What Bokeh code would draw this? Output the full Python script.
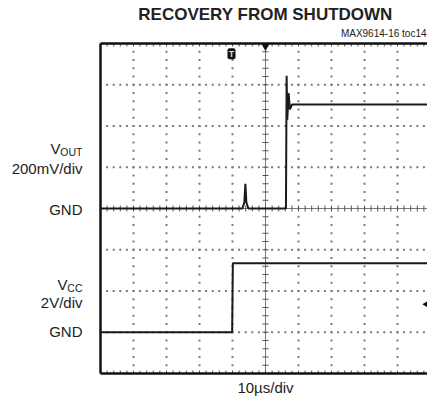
import numpy as np
from bokeh.plotting import figure
from bokeh.models import Label, Range1d
from bokeh.embed import file_html
from bokeh.resources import INLINE

# ---- data (scope divisions) ----
title_text = "RECOVERY FROM SHUTDOWN"
note_text = "MAX9614-16 toc14"
x_label = "10µs/div"
n_xdiv = 10
n_ydiv = 8
minor = 0.2

# VOUT trace (200mV/div, GND at division 4)
vout_x = [0.0, 4.30, 4.36, 4.39, 4.42, 4.48, 5.62, 5.64, 5.66, 5.70, 5.74, 5.80, 10.0]
vout_y = [4.0, 4.0, 4.15, 4.6, 4.15, 4.0, 4.0, 7.22, 6.15, 6.8, 6.4, 6.52, 6.52]

# VCC trace (2V/div, GND at division 1)
vcc_x = [0.0, 3.99, 4.01, 10.0]
vcc_y = [1.0, 1.0, 2.67, 2.67]

trig_x = 3.97      # trigger position marker
trig_level = 1.68  # trigger level marker

FONT = "Liberation Sans"
W, H = 427, 409
X0, Y0 = 100.0, 373.0      # scope origin in page pixels
sx, sy = 33.0, 41.25       # px per division

p = figure(width=W, height=H, output_backend="svg", toolbar_location=None,
           x_range=Range1d(-X0 / sx, (W - X0) / sx),
           y_range=Range1d((Y0 - H) / sy, Y0 / sy),
           x_axis_location=None, y_axis_location=None,
           min_border_left=0, min_border_right=0, min_border_top=0, min_border_bottom=0)
p.outline_line_color = None
p.grid.visible = False
p.background_fill_color = "white"
p.border_fill_color = "white"

grid_col = "#7a7a7a"
tick_col = "#555555"
# dotted grid
gx, gy = [], []
for i in range(1, n_xdiv):
    if i == n_xdiv // 2:
        continue
    for yy in np.arange(minor, n_ydiv - 1e-9, minor):
        gx.append(i); gy.append(yy)
for j in range(1, n_ydiv):
    if j == n_ydiv // 2:
        continue
    for xx in np.arange(minor, n_xdiv - 1e-9, minor):
        gx.append(xx); gy.append(j)
p.scatter(gx, gy, marker="square", size=2, fill_color=grid_col, line_color=None)

# center crosshair with ticks
cx, cy = n_xdiv / 2, n_ydiv / 2
p.segment([cx], [0], [cx], [n_ydiv], line_color=grid_col, line_width=1)
p.segment([0], [cy], [n_xdiv], [cy], line_color=grid_col, line_width=1)
ty = np.arange(minor, n_ydiv - 1e-9, minor)
p.segment(cx - 3 / sx, ty, cx + 3 / sx, ty, line_color=tick_col, line_width=1)
tx = np.arange(minor, n_xdiv - 1e-9, minor)
p.segment(tx, cy - 3 / sy, tx, cy + 3 / sy, line_color=tick_col, line_width=1)

# border ticks
p.segment(tx, n_ydiv, tx, n_ydiv - 3 / sy, line_color=tick_col, line_width=1)
p.segment(tx, 0, tx, 3 / sy, line_color=tick_col, line_width=1)

# frame border (top, bottom, left)
p.segment([0, 0, 0], [0, n_ydiv, 0], [n_xdiv, n_xdiv, 0], [0, n_ydiv, n_ydiv],
          line_color="#111111", line_width=2.5)

# traces
p.line(vcc_x, vcc_y, line_color="#1a1a1a", line_width=2)
p.line(vout_x, vout_y, line_color="#1a1a1a", line_width=2)

# markers
p.scatter([cx], [n_ydiv - 0.07], marker="inverted_triangle", size=8, fill_color="#111111", line_color=None)
p.rect([trig_x], [n_ydiv - 0.25], width=8 / sx, height=11 / sy, fill_color="#111111",
       line_color=None, border_radius=2)
p.add_layout(Label(x=trig_x, y=n_ydiv - 0.25, text="T", text_font=FONT, text_font_size="9px",
                   text_font_style="bold", text_color="#dddddd", text_align="center",
                   text_baseline="middle"))
p.scatter([(W - X0) / sx], [trig_level], marker="triangle", angle=np.pi / 2, size=9,
          fill_color="#111111", line_color=None)


def dx(img_x):
    return (img_x - X0) / sx


def dy(img_y):
    return (Y0 - img_y) / sy


def lab(ix, iy, t, size, align="right", style="normal"):
    p.add_layout(Label(x=dx(ix), y=dy(iy), text=t, text_font=FONT, text_font_size=size,
                       text_font_style=style, text_color="#222222", text_align=align,
                       text_baseline="middle"))


lab(265, 14, title_text, "17px", align="center", style="bold")
lab(426, 33, note_text, "10px", align="right")

# VOUT labels
lab(60, 148, "V", "15px")
lab(82, 151, "OUT", "10.5px")
lab(82, 168, "200mV/div", "15px")
lab(82, 209, "GND", "15px")
# VCC labels
lab(67, 284, "V", "15px")
lab(82, 287, "CC", "10.5px")
lab(82, 302, "2V/div", "15px")
lab(82, 331, "GND", "15px")

lab(265, 387, x_label, "15px", align="center")

open("out.html", "w").write(file_html(p, INLINE))
